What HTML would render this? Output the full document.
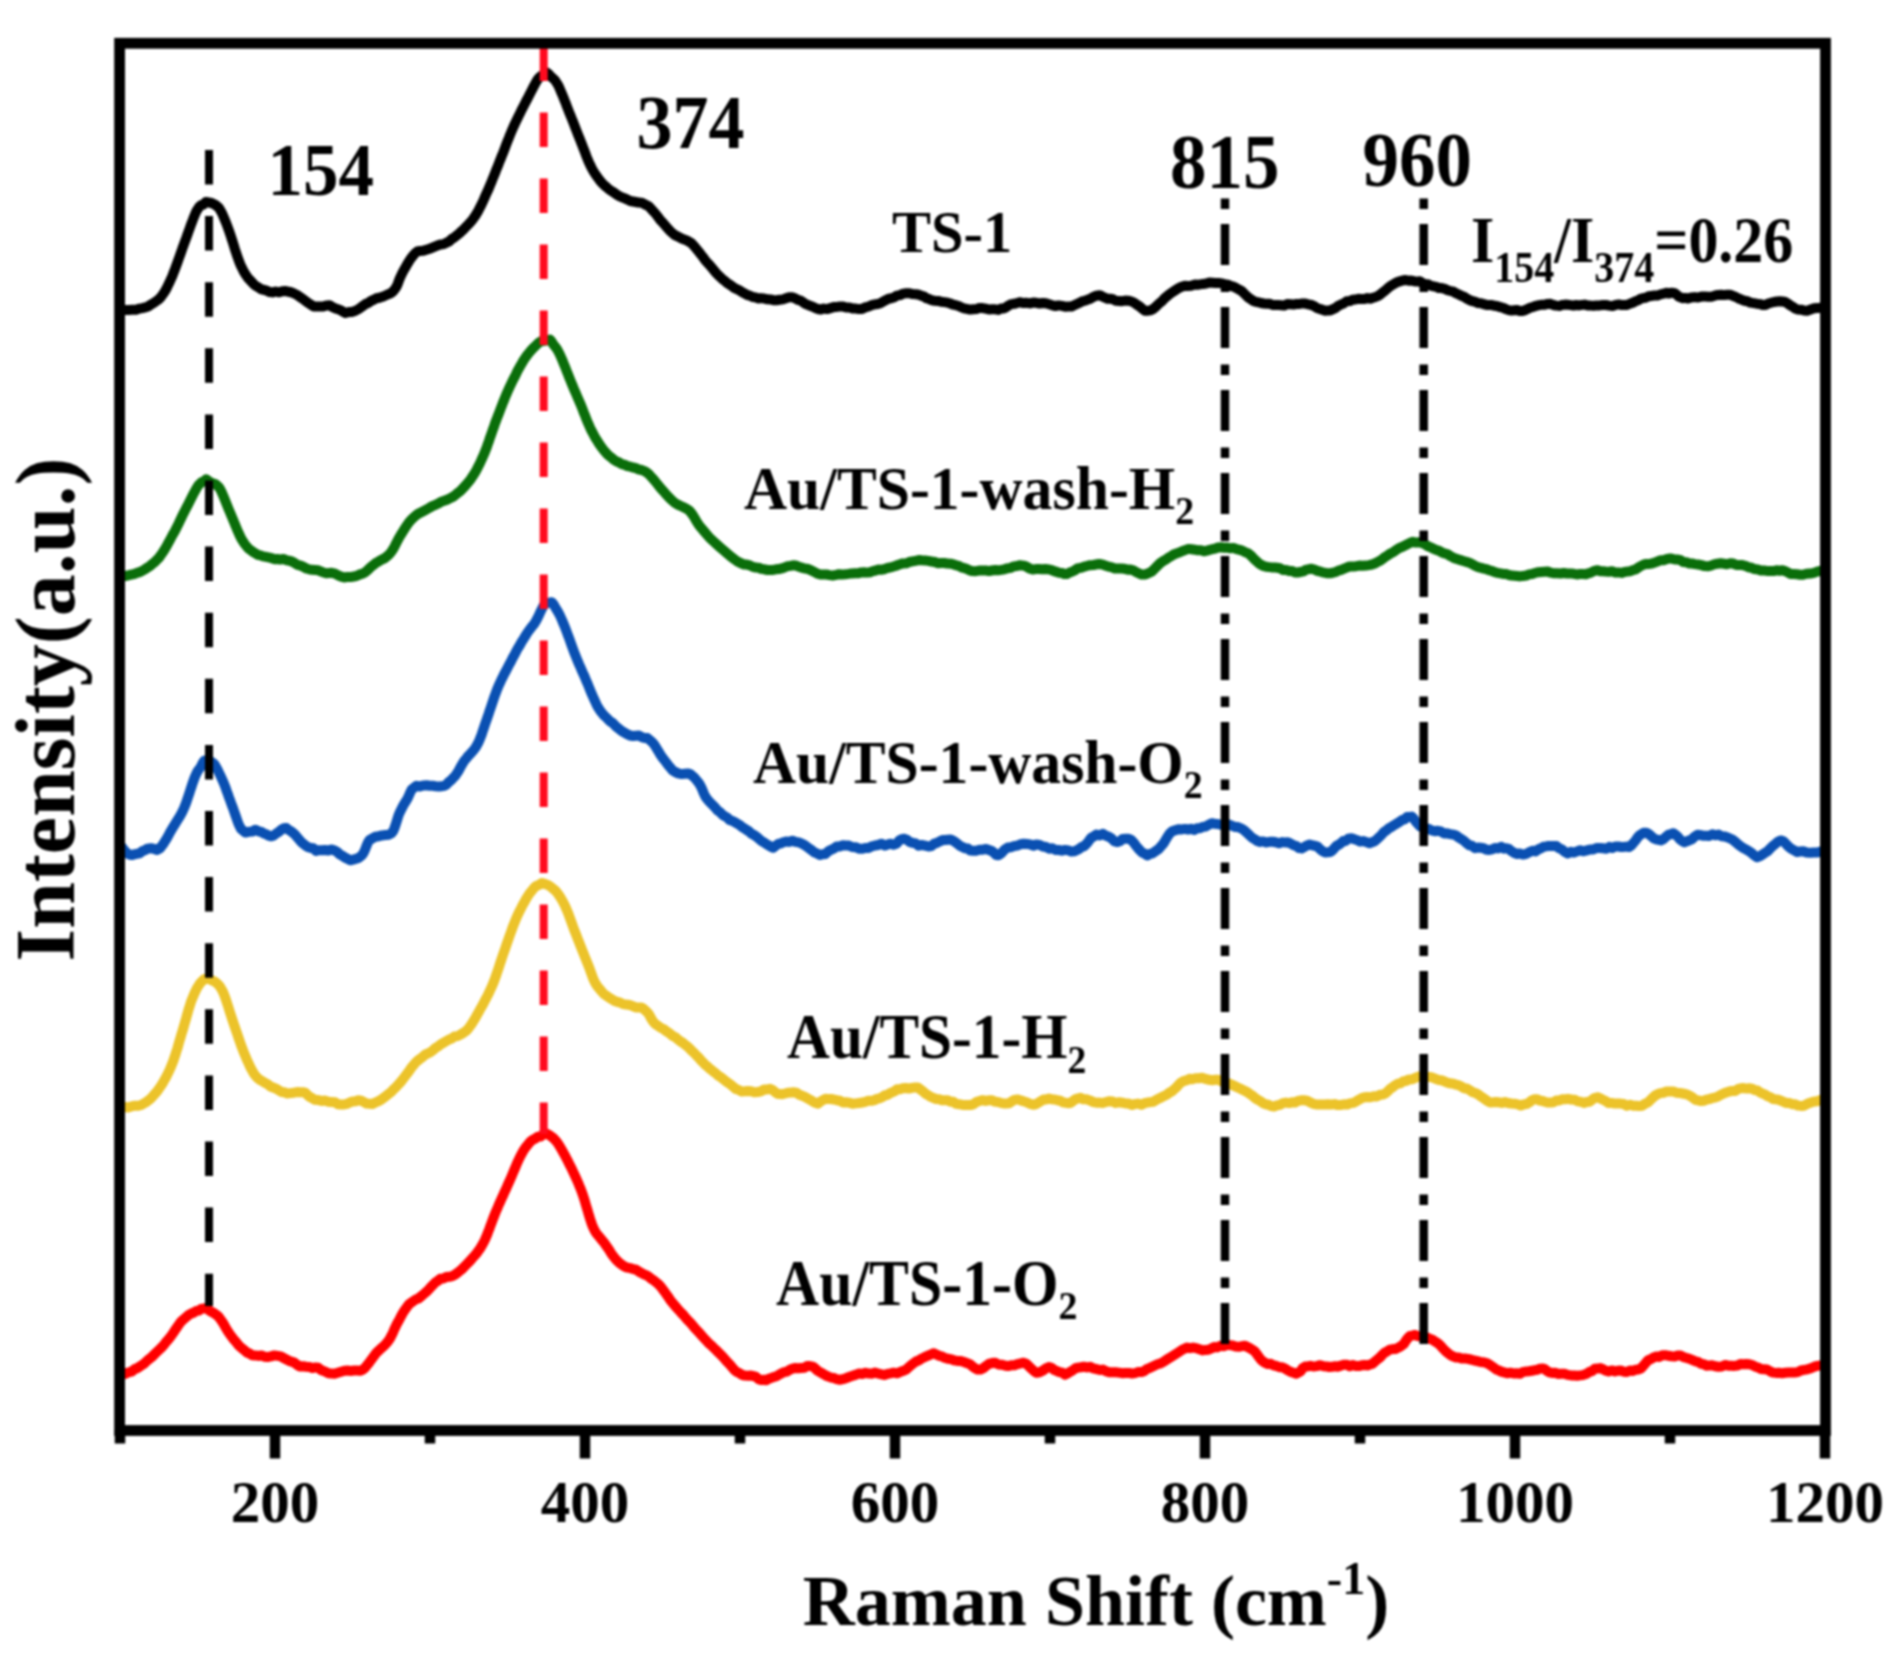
<!DOCTYPE html>
<html><head><meta charset="utf-8"><title>Raman spectra</title>
<style>
html,body{margin:0;padding:0;background:#fff;}
body{width:1893px;height:1662px;overflow:hidden;}
svg{display:block;filter:blur(0.9px);}
text{font-family:"Liberation Serif",serif;font-weight:bold;fill:#000;}
.c{fill:none;stroke-width:10;stroke-linejoin:round;stroke-linecap:butt;}
</style></head><body>
<svg width="1893" height="1662" viewBox="0 0 1893 1662">
<rect x="0" y="0" width="1893" height="1662" fill="#ffffff"/>
<g id="plot">
<path class="c" stroke="#000000" d="M120.0 309.0 L122.1 309.2 L125.1 310.0 L128.6 309.9 L132.3 309.8 L136.1 309.7 L139.5 308.6 L142.3 308.1 L145.2 307.4 L148.0 306.5 L150.8 304.6 L153.6 303.0 L156.1 301.2 L158.5 299.5 L160.4 297.7 L162.1 295.4 L163.6 293.3 L165.1 291.0 L166.6 288.3 L168.0 285.4 L169.5 282.3 L171.0 278.9 L172.1 276.6 L173.1 273.9 L174.2 271.2 L175.3 268.3 L176.4 265.3 L177.5 262.3 L178.6 259.2 L179.7 256.1 L180.8 253.0 L181.9 249.9 L182.9 246.9 L184.0 244.0 L185.1 241.1 L186.2 238.1 L187.3 235.0 L188.4 231.9 L189.5 228.8 L190.6 225.8 L191.7 222.8 L192.8 220.0 L193.8 217.3 L194.8 214.9 L195.7 212.8 L196.5 211.0 L199.3 206.7 L201.4 205.1 L203.2 204.6 L206.0 201.9 L209.8 202.6 L212.4 203.4 L215.5 205.0 L218.7 207.6 L220.0 209.7 L221.2 211.8 L222.5 214.3 L223.7 217.2 L225.1 220.5 L226.5 224.0 L228.0 228.0 L228.9 230.4 L229.8 233.1 L230.8 236.0 L231.7 239.0 L232.8 242.2 L233.8 245.5 L234.8 248.8 L235.9 252.1 L236.9 255.2 L238.0 258.2 L239.0 261.1 L240.0 263.7 L241.0 266.0 L242.8 269.6 L244.5 272.8 L246.2 275.4 L247.9 277.8 L249.7 279.8 L251.5 281.7 L253.5 283.9 L255.9 286.0 L258.4 287.4 L261.0 289.1 L263.7 289.8 L266.5 290.6 L269.4 292.0 L272.5 292.4 L275.7 291.5 L279.1 292.3 L282.4 291.2 L285.6 290.9 L288.4 291.8 L291.3 292.3 L293.9 293.4 L296.3 294.6 L298.6 296.0 L301.0 297.8 L303.5 299.4 L306.0 301.4 L308.5 303.1 L311.0 304.7 L313.8 306.5 L316.8 306.6 L319.9 306.4 L323.1 306.5 L326.4 305.4 L329.6 305.3 L332.3 307.0 L335.0 308.3 L337.8 309.2 L340.4 310.2 L343.0 311.7 L345.5 312.9 L348.8 312.1 L351.7 312.1 L354.7 311.1 L358.0 309.4 L360.4 307.8 L363.0 305.9 L365.6 304.0 L368.3 302.9 L371.1 300.9 L374.0 299.6 L376.6 298.2 L379.5 297.7 L382.4 296.8 L385.4 295.5 L388.2 294.2 L390.8 293.3 L393.0 291.4 L394.8 289.3 L396.3 287.0 L397.6 284.3 L398.7 281.3 L399.8 278.3 L401.1 275.5 L402.5 272.6 L403.9 270.0 L405.4 267.4 L406.9 264.8 L408.5 262.1 L410.1 259.5 L411.8 257.2 L413.4 255.3 L415.0 253.4 L417.5 251.4 L420.0 250.9 L422.6 250.8 L425.2 250.1 L428.0 249.3 L431.0 248.3 L434.1 246.9 L437.3 245.6 L440.5 244.5 L443.7 244.1 L446.3 242.8 L449.0 241.5 L451.6 239.1 L454.3 237.4 L457.0 235.3 L459.6 233.1 L461.6 231.1 L463.6 229.5 L465.7 227.2 L467.7 225.1 L469.7 223.0 L471.7 220.7 L473.6 218.2 L475.4 215.6 L476.9 213.1 L478.4 210.6 L479.8 207.8 L481.2 205.1 L482.6 202.2 L483.9 199.3 L485.2 196.2 L486.6 193.2 L488.0 190.1 L489.2 187.4 L490.3 184.7 L491.5 181.8 L492.6 179.0 L493.8 176.1 L495.0 173.1 L496.1 170.2 L497.3 167.3 L498.5 164.4 L499.6 161.4 L500.8 158.5 L501.9 155.7 L503.1 152.8 L504.2 149.9 L505.3 147.0 L506.4 144.1 L507.5 141.2 L508.7 138.3 L509.8 135.4 L511.0 132.6 L512.2 129.7 L513.5 126.8 L514.7 124.1 L516.0 121.4 L517.4 118.6 L518.8 115.7 L520.2 112.8 L521.6 109.9 L523.0 107.2 L524.4 104.5 L525.7 101.9 L527.0 99.5 L528.2 97.2 L529.3 95.0 L531.0 91.7 L532.6 88.6 L534.0 85.9 L535.4 83.3 L536.6 81.2 L537.7 79.4 L538.8 78.0 L541.9 75.5 L544.1 74.5 L547.0 72.7 L548.6 73.9 L550.8 76.5 L552.7 78.1 L554.9 80.1 L557.8 84.6 L558.8 86.5 L559.8 88.9 L560.9 91.5 L562.1 94.3 L563.4 97.4 L564.6 100.5 L565.9 103.7 L567.1 106.9 L568.3 110.0 L569.4 112.9 L570.5 115.5 L571.7 118.5 L572.8 121.2 L573.8 123.8 L574.8 126.3 L575.7 128.7 L576.7 131.3 L577.7 133.8 L578.8 136.6 L580.0 139.5 L581.0 142.1 L582.1 144.8 L583.1 147.6 L584.3 150.5 L585.4 153.5 L586.5 156.5 L587.7 159.5 L588.9 162.3 L590.2 165.0 L591.4 167.5 L592.7 170.0 L594.5 173.0 L596.4 175.8 L598.3 178.4 L600.2 180.9 L602.2 183.2 L604.3 185.3 L606.4 187.0 L608.5 189.0 L611.0 190.8 L613.7 192.4 L616.4 194.3 L619.2 196.2 L622.0 197.3 L624.8 198.4 L627.5 199.6 L630.3 201.0 L633.0 201.5 L635.9 202.0 L638.6 202.6 L641.4 202.7 L644.0 203.8 L646.6 205.3 L648.8 206.3 L650.9 208.6 L652.9 210.8 L654.9 213.0 L656.9 215.5 L658.8 218.0 L660.6 220.4 L662.4 222.3 L664.6 224.8 L666.7 227.2 L668.7 229.5 L670.7 231.6 L672.7 233.4 L675.0 235.2 L677.5 236.3 L680.1 237.7 L682.8 239.0 L685.6 239.9 L688.3 241.3 L691.0 242.8 L693.0 244.9 L695.0 247.1 L696.9 249.5 L698.9 251.9 L700.9 254.5 L702.9 257.0 L704.8 259.7 L706.8 262.1 L708.8 264.2 L710.7 266.3 L712.6 268.7 L714.5 271.0 L716.4 273.3 L718.4 275.4 L720.5 277.2 L722.6 279.4 L724.8 280.9 L727.1 283.0 L729.5 284.5 L731.9 286.1 L734.3 288.0 L736.8 289.1 L739.2 290.3 L741.6 291.8 L744.4 293.4 L747.1 294.9 L750.0 295.8 L752.7 297.0 L755.5 297.4 L758.1 298.5 L760.7 298.1 L764.1 298.5 L767.3 299.3 L770.3 299.4 L773.4 300.2 L776.5 300.3 L779.7 299.8 L782.9 299.4 L786.0 298.3 L789.2 297.2 L792.4 297.2 L795.1 298.4 L797.8 299.8 L800.5 300.5 L803.2 302.4 L805.7 304.1 L808.2 305.0 L810.8 306.1 L813.2 306.9 L815.5 308.1 L818.0 309.0 L820.9 309.6 L823.8 308.6 L826.9 309.1 L830.3 308.1 L833.6 307.1 L836.9 306.9 L840.0 306.5 L843.3 306.6 L846.4 307.5 L849.4 307.5 L852.5 308.4 L855.8 308.6 L858.8 309.1 L862.0 308.9 L865.3 307.4 L868.6 306.5 L871.8 305.1 L874.8 304.4 L877.7 304.0 L880.4 303.2 L883.1 301.7 L885.7 300.2 L888.2 298.9 L890.6 298.3 L893.9 297.5 L897.0 295.6 L900.0 295.1 L903.3 293.6 L906.3 293.2 L909.5 293.2 L912.8 294.1 L916.0 294.2 L919.0 294.7 L921.7 295.9 L924.2 296.6 L926.6 298.3 L929.1 299.1 L931.8 300.3 L934.7 300.7 L937.8 300.9 L941.0 301.7 L944.3 302.1 L947.7 302.7 L950.3 303.5 L953.0 304.6 L955.8 305.2 L958.6 306.0 L961.4 307.4 L964.1 308.4 L966.7 308.9 L970.1 309.6 L973.2 309.2 L976.3 309.1 L979.4 307.9 L982.5 308.1 L985.7 308.7 L988.9 309.5 L992.0 309.3 L995.2 309.3 L998.4 309.9 L1001.0 308.6 L1003.6 308.4 L1006.1 307.3 L1008.7 305.4 L1011.4 304.1 L1014.2 303.8 L1017.2 303.0 L1020.3 302.2 L1023.5 303.1 L1026.7 302.8 L1030.0 303.4 L1033.2 302.6 L1036.4 302.8 L1039.6 303.5 L1042.8 303.0 L1045.9 303.3 L1049.1 304.3 L1052.3 305.3 L1055.5 306.0 L1058.8 305.4 L1062.0 305.9 L1065.2 306.7 L1068.3 306.6 L1071.3 306.6 L1074.1 305.3 L1076.9 304.0 L1079.5 302.8 L1082.1 301.4 L1084.6 300.7 L1087.0 299.9 L1090.3 298.7 L1093.4 296.9 L1096.4 295.7 L1099.8 295.2 L1102.3 296.5 L1104.9 297.7 L1107.6 298.8 L1110.3 298.8 L1113.0 299.2 L1115.7 300.8 L1118.9 300.9 L1122.0 301.2 L1125.2 300.6 L1128.3 300.7 L1131.5 301.5 L1134.2 302.7 L1136.9 304.7 L1139.7 306.5 L1142.3 308.8 L1144.9 310.7 L1147.4 310.7 L1150.2 310.4 L1152.9 309.2 L1155.4 307.1 L1157.8 304.7 L1160.0 302.8 L1162.4 300.8 L1164.5 298.4 L1166.6 296.6 L1169.0 294.6 L1171.3 292.9 L1173.8 291.3 L1176.5 289.5 L1179.2 287.8 L1181.8 286.7 L1184.8 285.7 L1187.7 285.9 L1191.0 285.7 L1195.0 284.5 L1197.5 284.8 L1200.2 284.4 L1203.2 283.9 L1206.2 283.6 L1209.4 282.6 L1212.5 282.8 L1215.5 283.0 L1218.4 282.9 L1221.5 283.4 L1224.6 284.1 L1227.7 284.6 L1230.6 286.0 L1233.5 286.6 L1236.2 288.0 L1238.8 289.5 L1241.5 290.9 L1243.8 293.1 L1246.0 295.4 L1248.3 297.5 L1250.7 299.1 L1253.5 301.0 L1255.9 301.9 L1258.3 302.2 L1261.0 303.0 L1263.7 303.5 L1266.5 303.8 L1269.5 303.8 L1272.5 304.9 L1275.7 305.0 L1278.4 305.1 L1281.3 305.2 L1284.3 305.6 L1287.4 304.1 L1290.5 304.3 L1293.6 304.6 L1296.7 303.9 L1299.7 303.9 L1302.6 303.4 L1305.3 303.6 L1308.4 304.4 L1311.4 305.0 L1314.2 306.1 L1316.9 308.0 L1319.5 308.9 L1322.1 309.6 L1324.8 310.8 L1327.5 310.5 L1330.2 310.4 L1333.0 309.1 L1335.7 307.9 L1338.4 305.7 L1341.1 304.4 L1343.9 303.3 L1346.7 301.3 L1349.7 301.1 L1352.5 299.8 L1355.4 299.5 L1358.3 298.8 L1361.4 298.9 L1364.4 299.0 L1367.4 298.1 L1370.3 298.7 L1373.0 297.8 L1375.6 297.0 L1378.2 295.9 L1380.7 294.1 L1383.0 292.2 L1385.2 290.5 L1387.3 288.6 L1389.5 286.7 L1391.7 285.3 L1394.0 283.9 L1396.8 282.3 L1399.7 281.4 L1402.6 280.5 L1405.6 280.0 L1408.5 280.7 L1411.3 280.5 L1414.0 281.2 L1416.9 281.6 L1419.7 281.3 L1422.4 283.0 L1425.1 284.3 L1427.9 284.3 L1431.0 285.9 L1433.5 286.3 L1436.2 286.8 L1439.0 288.1 L1441.8 288.1 L1444.7 288.8 L1447.6 290.2 L1450.5 291.0 L1453.3 291.7 L1456.1 293.3 L1458.8 294.6 L1461.6 295.9 L1464.4 297.0 L1467.1 298.8 L1469.9 300.2 L1472.6 301.2 L1475.4 301.9 L1478.2 303.1 L1480.9 303.3 L1483.7 304.1 L1486.5 304.9 L1489.3 305.1 L1492.0 305.1 L1494.8 305.8 L1497.6 306.2 L1500.4 307.2 L1503.1 307.8 L1505.9 309.1 L1508.7 310.1 L1511.5 310.6 L1514.2 310.3 L1517.0 310.0 L1519.8 311.0 L1522.5 310.9 L1525.3 310.1 L1528.0 308.8 L1530.7 307.5 L1533.4 306.8 L1536.2 305.8 L1539.0 305.1 L1542.0 304.7 L1544.7 304.7 L1547.5 303.9 L1550.4 303.8 L1553.3 305.0 L1556.2 305.6 L1559.1 305.9 L1562.1 304.9 L1565.0 304.6 L1567.9 304.8 L1570.7 305.1 L1573.5 305.6 L1576.3 305.0 L1579.0 305.4 L1581.8 304.9 L1584.6 304.6 L1587.6 305.4 L1590.6 305.6 L1593.8 305.7 L1596.6 305.4 L1599.6 305.4 L1602.7 305.0 L1605.9 305.0 L1609.2 305.6 L1612.5 306.0 L1615.7 304.9 L1618.8 304.4 L1621.8 305.1 L1624.5 305.0 L1627.0 304.9 L1630.4 303.5 L1633.2 302.5 L1635.6 301.2 L1637.9 300.4 L1640.2 299.0 L1642.7 298.1 L1645.6 297.7 L1648.2 296.5 L1651.1 295.9 L1654.2 295.6 L1657.4 295.5 L1660.5 294.4 L1663.6 293.7 L1666.5 292.8 L1669.1 293.6 L1671.4 292.8 L1674.9 293.3 L1677.2 295.3 L1679.3 296.9 L1682.5 298.2 L1685.1 297.9 L1688.0 298.5 L1691.2 297.5 L1694.6 297.1 L1698.0 297.5 L1701.4 296.6 L1704.7 296.4 L1707.9 296.8 L1711.3 296.7 L1714.6 295.7 L1717.9 294.9 L1721.1 294.7 L1724.1 295.1 L1726.9 294.8 L1730.3 294.7 L1733.2 296.1 L1735.9 297.0 L1738.6 298.5 L1741.7 299.7 L1744.5 300.7 L1747.4 301.2 L1750.4 302.6 L1753.5 303.1 L1756.7 303.7 L1760.0 304.1 L1762.6 304.9 L1765.4 304.9 L1768.3 303.5 L1771.2 302.7 L1774.1 302.0 L1777.0 301.5 L1779.8 301.3 L1782.4 301.5 L1785.2 302.0 L1787.8 303.6 L1790.3 305.4 L1792.8 306.8 L1795.3 308.6 L1798.0 309.6 L1800.9 309.7 L1803.8 310.4 L1807.1 310.7 L1810.6 309.5 L1814.1 308.3 L1817.5 308.1 L1820.5 307.7 L1823.1 307.4 L1825.0 307.0"/>
<path class="c" stroke="#0a6e0a" d="M120.0 575.8 L121.9 576.0 L124.5 576.2 L127.7 575.5 L131.2 574.6 L134.9 573.8 L137.1 572.8 L139.4 572.2 L142.0 571.0 L144.6 569.5 L147.2 567.8 L149.8 566.1 L152.4 563.9 L154.8 562.0 L157.0 559.7 L158.9 557.9 L160.6 555.4 L162.3 553.1 L164.0 550.5 L165.5 547.9 L167.1 545.2 L168.6 542.4 L170.0 539.8 L171.5 537.0 L172.9 534.4 L174.5 531.7 L175.9 528.9 L177.4 526.0 L178.8 523.2 L180.1 520.4 L181.5 517.5 L182.8 514.7 L184.2 511.9 L185.6 509.2 L187.1 506.4 L188.6 503.4 L190.1 500.4 L191.6 497.4 L193.1 494.4 L194.6 491.8 L196.0 489.3 L197.2 487.1 L198.3 485.4 L201.7 482.1 L203.8 481.5 L206.2 479.3 L210.0 482.1 L212.5 483.1 L215.6 484.2 L218.9 487.2 L220.0 488.9 L221.2 491.2 L222.4 493.8 L223.6 496.7 L224.8 499.7 L226.1 502.9 L227.4 506.1 L228.7 509.3 L230.0 512.4 L231.2 515.2 L232.4 518.1 L233.7 521.2 L234.9 524.3 L236.2 527.4 L237.5 530.5 L238.8 533.4 L240.0 536.1 L241.3 538.7 L242.6 540.8 L244.7 544.0 L246.7 546.5 L248.7 548.8 L250.8 550.3 L253.0 551.9 L255.3 553.3 L257.8 554.9 L260.4 555.4 L263.1 556.4 L265.8 556.8 L268.5 557.3 L271.2 558.0 L274.3 559.2 L277.2 559.0 L280.2 559.6 L283.4 559.0 L287.0 560.4 L289.5 560.8 L292.1 561.6 L294.9 563.2 L297.7 564.9 L300.6 565.6 L303.5 566.9 L306.4 568.5 L309.2 569.3 L312.0 569.8 L314.9 569.9 L317.8 570.2 L320.7 571.3 L323.5 572.5 L326.3 573.3 L328.9 573.1 L331.4 572.8 L335.0 573.7 L338.2 575.4 L341.2 576.7 L344.1 577.4 L347.2 577.1 L350.4 577.1 L353.7 576.5 L356.9 575.8 L360.0 574.4 L363.0 573.5 L365.7 571.9 L368.3 569.5 L370.7 567.2 L373.2 565.2 L375.8 562.9 L378.1 561.8 L380.5 560.3 L383.0 559.1 L385.5 557.6 L387.8 555.7 L390.0 553.5 L391.7 551.3 L393.3 548.8 L394.8 546.0 L396.3 543.0 L397.8 540.2 L399.4 537.2 L401.0 534.5 L402.7 531.8 L404.3 529.3 L406.0 526.6 L407.8 524.0 L409.6 521.6 L411.6 519.4 L413.8 517.3 L416.2 515.2 L418.7 513.5 L421.3 512.2 L424.1 510.8 L427.0 509.2 L429.9 507.5 L432.8 505.9 L435.5 504.8 L438.3 503.5 L441.2 501.7 L444.1 500.8 L447.0 499.8 L449.8 498.4 L452.5 497.0 L455.0 495.3 L457.6 493.1 L460.1 491.2 L462.4 488.9 L464.6 486.5 L466.7 484.2 L468.8 481.6 L470.8 479.1 L472.3 476.8 L473.8 474.5 L475.3 472.1 L476.7 469.6 L478.0 467.0 L479.4 464.3 L480.7 461.5 L482.1 458.4 L483.5 455.3 L484.6 452.7 L485.6 450.1 L486.7 447.3 L487.7 444.3 L488.8 441.4 L489.8 438.3 L490.9 435.3 L492.0 432.2 L493.0 429.2 L494.1 426.2 L495.1 423.2 L496.2 420.4 L497.3 417.4 L498.5 414.4 L499.6 411.5 L500.7 408.6 L501.8 405.7 L502.9 402.8 L504.1 400.0 L505.2 397.1 L506.4 394.3 L507.6 391.5 L508.9 388.7 L510.2 385.8 L511.6 382.9 L513.0 380.0 L514.5 377.1 L516.0 374.2 L517.4 371.2 L518.9 368.4 L520.4 365.8 L521.9 363.3 L523.3 360.8 L524.7 358.6 L526.9 355.5 L529.2 352.7 L531.4 350.0 L533.6 347.7 L535.6 345.8 L537.4 344.0 L539.0 342.6 L542.4 340.6 L544.5 340.9 L548.4 340.0 L550.0 339.6 L551.1 340.8 L552.9 343.8 L554.1 345.4 L555.6 347.2 L557.4 349.8 L559.6 354.0 L560.5 356.0 L561.6 358.5 L562.8 361.3 L564.0 364.3 L565.3 367.4 L566.5 370.6 L567.8 373.8 L569.0 377.0 L570.2 379.9 L571.3 382.6 L572.3 385.0 L573.6 388.2 L574.7 390.7 L575.7 393.0 L576.6 395.1 L577.6 397.4 L578.7 399.9 L580.0 403.0 L581.0 405.3 L582.0 407.8 L583.0 410.5 L584.1 413.3 L585.3 416.2 L586.4 419.2 L587.6 422.1 L588.9 425.1 L590.1 427.8 L591.4 430.5 L592.7 432.9 L594.3 435.9 L595.9 438.7 L597.6 441.3 L599.3 444.1 L601.1 446.7 L602.9 449.1 L604.7 451.3 L606.6 453.5 L608.5 455.3 L611.0 457.3 L613.7 459.6 L616.4 461.4 L619.2 462.5 L622.0 464.2 L624.8 464.9 L627.5 466.1 L630.3 466.7 L633.0 467.5 L635.9 468.1 L638.6 469.4 L641.4 470.0 L644.0 470.9 L646.6 472.4 L648.8 474.2 L650.9 476.5 L652.9 478.7 L654.9 481.0 L656.9 483.5 L658.8 485.9 L660.6 488.2 L662.4 490.2 L664.7 492.7 L666.8 495.1 L668.8 497.2 L670.8 499.3 L672.8 501.1 L675.0 503.0 L677.8 504.6 L680.8 506.0 L683.8 507.3 L686.7 508.9 L689.4 510.7 L691.3 513.0 L693.0 515.4 L694.6 518.0 L696.2 520.8 L698.0 523.7 L700.0 526.4 L701.7 528.4 L703.4 530.5 L705.3 532.8 L707.2 535.0 L709.2 537.3 L711.3 539.3 L713.5 541.4 L715.8 543.5 L718.0 545.5 L720.2 547.5 L722.6 549.6 L725.1 551.7 L727.6 553.8 L730.1 556.0 L732.7 558.0 L735.4 560.0 L738.0 561.8 L740.8 563.1 L743.7 564.4 L746.7 564.6 L749.8 565.4 L752.8 566.9 L755.8 567.5 L758.6 567.7 L761.1 568.8 L763.4 569.1 L767.4 570.0 L770.4 570.1 L773.0 569.9 L776.0 569.3 L778.8 569.1 L781.6 568.4 L784.5 567.4 L787.4 566.3 L790.3 565.9 L793.1 565.3 L795.9 565.4 L798.8 566.8 L801.6 567.6 L804.6 568.5 L807.1 568.7 L809.8 569.7 L812.4 571.0 L815.1 572.4 L817.7 573.7 L820.4 574.5 L823.5 574.4 L826.5 574.5 L829.5 575.1 L832.7 575.5 L836.3 574.9 L839.1 574.2 L842.1 574.4 L845.2 574.3 L848.4 573.9 L851.7 573.4 L855.1 573.2 L858.5 573.2 L861.2 572.4 L864.0 572.3 L866.9 572.6 L869.9 572.2 L872.8 571.1 L875.7 570.5 L878.5 569.6 L881.2 569.7 L883.8 569.3 L886.9 568.1 L889.8 567.5 L892.6 566.8 L895.3 566.0 L897.9 565.0 L900.4 564.1 L902.9 563.4 L906.2 563.3 L909.3 562.0 L912.3 561.4 L915.4 560.8 L918.7 560.1 L921.7 560.3 L924.9 560.4 L928.2 560.9 L931.5 561.5 L934.7 562.0 L937.7 563.2 L941.1 563.0 L944.3 563.0 L947.4 563.6 L950.5 563.7 L953.6 564.4 L956.2 565.3 L958.6 565.8 L961.1 567.3 L963.7 567.9 L966.4 568.8 L969.4 570.2 L972.3 571.1 L975.6 571.2 L979.0 570.6 L982.4 570.6 L985.8 570.4 L988.9 571.1 L991.6 570.5 L995.4 570.0 L998.4 570.2 L1001.1 569.9 L1004.3 569.3 L1007.3 568.4 L1010.5 567.8 L1013.8 566.4 L1017.0 566.0 L1020.0 565.2 L1023.3 565.6 L1026.4 566.6 L1029.4 568.4 L1032.8 569.5 L1035.8 569.1 L1038.9 569.1 L1042.2 569.3 L1045.5 569.0 L1048.7 569.4 L1051.3 570.0 L1054.0 571.1 L1056.6 571.9 L1059.2 572.7 L1061.9 572.9 L1064.5 574.1 L1067.1 573.9 L1069.6 572.5 L1072.2 571.6 L1074.8 570.3 L1077.5 568.4 L1080.3 567.9 L1083.4 566.9 L1086.7 566.0 L1090.0 565.2 L1093.4 565.0 L1096.6 564.3 L1099.4 564.0 L1102.9 564.6 L1105.9 565.8 L1108.8 566.7 L1112.0 567.4 L1114.9 568.5 L1118.0 568.4 L1121.2 568.5 L1124.5 568.8 L1127.9 569.7 L1130.5 569.6 L1133.2 570.3 L1136.0 572.0 L1138.8 573.4 L1141.6 574.5 L1144.3 574.6 L1146.9 573.9 L1149.3 572.7 L1151.5 571.7 L1153.6 569.8 L1155.7 567.6 L1157.9 565.4 L1160.2 563.1 L1162.8 561.2 L1165.3 559.9 L1168.0 557.9 L1170.8 556.4 L1173.7 554.5 L1176.6 553.4 L1179.5 552.3 L1182.3 551.2 L1185.0 550.1 L1188.4 548.9 L1191.6 549.3 L1194.8 549.7 L1197.9 550.3 L1201.0 550.3 L1204.0 551.3 L1206.9 550.7 L1209.7 549.8 L1212.4 549.2 L1215.2 548.6 L1218.1 547.6 L1221.4 547.3 L1224.1 547.7 L1227.1 547.5 L1230.2 548.3 L1233.4 547.9 L1236.6 549.2 L1239.7 549.9 L1242.6 550.8 L1245.2 552.2 L1247.8 553.1 L1250.2 554.9 L1252.4 557.1 L1254.4 559.3 L1256.5 561.2 L1258.6 563.2 L1261.0 564.7 L1263.5 566.0 L1266.2 566.8 L1268.9 567.1 L1271.6 567.4 L1274.4 567.4 L1277.2 567.8 L1280.0 568.2 L1282.9 569.9 L1286.0 570.0 L1289.1 570.9 L1292.1 571.0 L1295.1 572.4 L1297.7 572.5 L1300.0 572.0 L1303.5 571.4 L1305.7 569.8 L1309.0 569.2 L1311.5 568.7 L1314.3 569.5 L1317.4 570.9 L1320.7 571.7 L1324.1 572.7 L1327.5 573.3 L1330.1 573.2 L1332.8 572.8 L1335.6 572.0 L1338.4 570.6 L1341.2 569.9 L1344.1 568.7 L1346.9 567.5 L1349.7 566.4 L1352.9 566.5 L1356.2 566.2 L1359.4 565.6 L1362.6 565.8 L1365.8 565.6 L1368.9 565.1 L1371.9 564.5 L1374.7 563.5 L1377.3 562.1 L1379.9 560.8 L1382.4 559.1 L1385.0 557.0 L1387.6 555.4 L1390.4 553.5 L1393.0 552.3 L1395.8 550.2 L1398.6 548.4 L1401.5 547.2 L1404.4 545.7 L1407.2 544.4 L1410.0 542.9 L1412.6 541.8 L1415.8 542.6 L1418.9 542.2 L1421.8 543.0 L1424.7 544.3 L1427.8 546.1 L1431.0 547.5 L1433.6 548.8 L1436.3 549.9 L1439.1 550.8 L1441.9 552.4 L1444.8 553.4 L1447.6 554.3 L1450.5 556.2 L1453.3 557.7 L1456.1 558.7 L1458.8 559.6 L1461.6 560.4 L1464.4 561.3 L1467.1 562.1 L1469.9 563.0 L1472.6 564.4 L1475.4 566.0 L1478.2 567.2 L1480.9 567.8 L1483.7 568.6 L1486.5 569.2 L1489.3 570.2 L1492.0 571.0 L1494.8 572.1 L1497.6 572.8 L1500.4 573.3 L1503.2 573.9 L1506.1 574.1 L1508.9 575.0 L1511.7 575.6 L1514.5 575.8 L1517.2 576.0 L1519.8 576.4 L1523.1 575.9 L1526.1 575.6 L1529.0 574.4 L1532.0 574.0 L1535.0 573.0 L1538.3 572.2 L1541.3 571.9 L1544.4 571.7 L1547.6 571.5 L1550.8 572.7 L1554.0 573.3 L1557.3 573.3 L1560.5 573.5 L1563.7 573.0 L1567.1 573.5 L1570.4 573.4 L1573.7 573.8 L1576.9 574.4 L1579.9 574.1 L1582.7 574.0 L1585.9 574.2 L1588.4 573.3 L1590.9 572.7 L1593.7 571.2 L1597.5 570.2 L1599.9 571.2 L1602.6 571.2 L1605.6 571.5 L1608.8 571.7 L1612.0 571.3 L1615.3 572.4 L1618.5 572.4 L1621.6 572.9 L1624.4 572.0 L1627.0 571.6 L1630.2 571.3 L1632.9 570.1 L1635.4 569.5 L1637.7 568.0 L1640.1 566.4 L1642.7 565.1 L1645.6 564.1 L1648.2 564.1 L1651.1 563.6 L1654.1 562.7 L1657.2 561.6 L1660.3 560.2 L1663.3 560.3 L1666.3 559.2 L1669.0 558.6 L1671.4 558.6 L1675.0 559.5 L1677.9 559.6 L1680.5 560.2 L1683.2 562.0 L1686.2 562.2 L1689.0 563.4 L1692.0 563.5 L1695.0 564.1 L1698.1 564.5 L1701.4 565.1 L1704.7 566.1 L1707.7 566.3 L1710.9 565.6 L1714.1 564.4 L1717.5 563.7 L1720.7 563.3 L1723.9 563.7 L1726.9 564.2 L1730.2 563.3 L1733.3 563.6 L1736.4 565.0 L1739.4 564.9 L1742.4 565.1 L1745.4 565.8 L1748.5 567.3 L1751.6 567.8 L1754.6 569.1 L1757.7 569.4 L1760.8 570.5 L1763.9 570.5 L1767.0 570.9 L1770.2 571.1 L1773.4 571.1 L1776.5 570.3 L1779.5 570.7 L1782.4 570.2 L1785.4 571.3 L1788.0 572.5 L1790.5 574.0 L1793.5 574.1 L1797.2 574.3 L1799.9 574.7 L1803.0 574.8 L1806.5 573.8 L1810.2 573.6 L1813.8 572.9 L1817.3 571.6 L1820.4 570.8 L1823.1 570.2 L1825.0 570.9"/>
<path class="c" stroke="#0a50b2" d="M120.0 844.7 L121.5 846.5 L123.6 849.3 L126.2 852.5 L128.9 854.4 L131.7 855.1 L134.1 854.4 L136.8 853.8 L139.5 853.4 L142.3 851.2 L145.0 850.1 L147.5 848.6 L150.9 848.2 L154.0 848.9 L157.1 849.9 L160.2 848.1 L161.8 845.8 L163.4 843.8 L165.0 841.2 L166.7 838.6 L168.3 835.7 L169.8 832.8 L171.4 830.0 L172.9 827.4 L174.6 824.8 L176.2 822.2 L177.8 819.6 L179.3 817.3 L180.9 814.5 L182.4 811.6 L184.0 808.2 L185.0 805.7 L186.1 802.9 L187.1 799.9 L188.2 796.7 L189.3 793.4 L190.3 790.2 L191.4 787.0 L192.3 784.0 L193.3 781.2 L194.2 778.7 L195.0 776.6 L197.0 772.3 L198.6 769.8 L200.0 768.0 L201.2 766.1 L203.1 762.3 L204.6 760.4 L207.9 760.9 L210.6 761.3 L214.0 763.8 L215.2 765.5 L216.5 767.7 L217.9 770.4 L219.3 773.3 L220.8 776.4 L222.2 779.6 L223.6 782.8 L224.7 785.4 L225.7 788.1 L226.7 791.0 L227.8 793.9 L228.8 796.9 L229.9 799.8 L230.9 802.6 L231.9 805.4 L233.0 808.2 L234.1 811.3 L235.2 814.5 L236.3 817.7 L237.4 820.9 L238.5 823.9 L239.8 826.6 L241.1 829.0 L242.6 830.3 L245.4 832.5 L248.7 831.8 L252.1 831.6 L255.4 829.7 L258.5 831.3 L261.2 831.9 L263.8 833.4 L266.3 834.2 L268.7 835.7 L271.2 836.3 L273.8 835.4 L276.4 833.4 L279.0 831.7 L281.5 829.6 L283.8 828.2 L286.3 827.9 L288.5 829.9 L290.8 831.1 L293.3 833.2 L295.2 834.8 L297.3 837.4 L299.4 839.9 L301.6 842.3 L303.8 844.1 L306.0 845.9 L308.5 847.3 L310.9 848.0 L313.4 848.3 L316.0 850.9 L318.7 850.2 L321.7 850.3 L324.9 850.0 L328.3 850.5 L331.5 849.4 L334.5 850.5 L337.2 851.9 L339.7 854.4 L342.2 855.7 L344.6 857.4 L347.2 858.6 L350.1 860.3 L353.1 859.6 L356.2 858.7 L359.0 857.7 L361.5 855.7 L363.2 853.5 L364.5 851.0 L365.7 848.0 L366.9 844.9 L368.1 842.1 L369.4 840.1 L372.4 838.4 L375.5 836.7 L379.0 836.2 L382.0 835.4 L385.4 835.1 L388.7 834.8 L391.6 833.1 L393.0 831.4 L394.2 828.7 L395.3 825.7 L396.4 822.3 L397.4 819.0 L398.4 815.8 L399.5 812.9 L401.1 809.7 L402.7 806.6 L404.3 803.8 L405.9 801.3 L407.4 798.7 L409.0 795.4 L410.3 792.3 L411.8 789.4 L413.8 787.8 L416.5 785.8 L419.8 786.5 L423.2 785.4 L426.5 785.3 L429.6 785.8 L432.6 785.8 L435.7 786.3 L439.0 786.6 L441.3 786.3 L443.8 785.9 L446.3 784.7 L448.8 782.0 L451.2 780.1 L453.4 777.7 L455.1 776.0 L456.8 773.5 L458.3 771.2 L459.8 768.5 L461.3 765.7 L462.9 762.9 L464.5 760.5 L466.3 758.5 L468.1 756.1 L470.0 754.2 L471.9 752.1 L473.8 749.9 L475.5 747.6 L477.2 744.7 L478.4 742.5 L479.5 740.0 L480.5 737.4 L481.6 734.6 L482.5 731.8 L483.5 728.8 L484.5 725.8 L485.6 722.7 L486.7 719.6 L487.6 716.9 L488.6 714.1 L489.5 711.2 L490.5 708.3 L491.5 705.4 L492.5 702.4 L493.5 699.4 L494.5 696.4 L495.6 693.5 L496.7 690.5 L497.8 687.7 L499.0 684.9 L500.2 682.3 L501.5 679.5 L502.8 676.9 L504.1 674.3 L505.5 671.8 L506.8 669.2 L508.2 666.5 L509.5 664.0 L510.8 661.7 L512.0 659.3 L513.5 656.4 L515.0 653.8 L516.4 651.0 L517.8 648.4 L519.2 646.2 L520.6 643.7 L522.0 641.3 L523.4 639.2 L524.7 637.0 L526.7 633.8 L528.6 631.0 L530.6 628.4 L532.4 626.0 L534.2 623.9 L535.8 621.2 L537.3 618.5 L538.8 615.5 L540.1 612.5 L541.4 609.8 L542.6 607.5 L543.7 605.6 L546.4 603.2 L548.5 602.8 L551.7 602.2 L553.2 603.8 L554.9 606.8 L556.2 609.0 L557.8 611.5 L559.6 614.8 L560.6 617.0 L561.6 619.2 L562.7 621.9 L563.9 624.6 L565.1 627.6 L566.4 631.0 L567.3 633.4 L568.3 636.2 L569.4 639.0 L570.4 641.9 L571.5 645.0 L572.6 648.0 L573.7 651.0 L574.8 653.9 L575.9 656.6 L577.1 659.6 L578.2 662.2 L579.3 664.9 L580.5 667.4 L581.6 670.1 L582.8 672.8 L584.1 675.5 L585.4 678.7 L586.5 681.4 L587.8 684.2 L589.0 687.3 L590.3 690.5 L591.6 693.6 L593.0 696.7 L594.3 699.6 L595.6 702.5 L596.8 705.1 L598.0 707.3 L600.1 710.6 L601.9 712.9 L603.8 715.2 L605.9 717.1 L608.5 719.8 L610.4 721.6 L612.6 722.9 L614.9 725.3 L617.3 727.6 L619.8 729.5 L622.3 731.4 L624.9 732.9 L627.5 734.4 L630.2 735.5 L633.0 736.1 L636.0 735.8 L639.0 735.6 L641.9 737.2 L644.7 738.1 L647.4 738.1 L649.7 740.0 L652.0 742.0 L654.0 744.3 L655.8 747.0 L657.5 749.8 L659.1 752.4 L660.7 755.2 L662.4 757.6 L664.5 760.3 L666.6 763.0 L668.7 765.9 L670.8 768.2 L672.9 770.7 L675.0 771.9 L678.2 773.4 L681.5 774.1 L684.7 773.7 L687.8 773.4 L690.2 774.0 L692.5 776.1 L694.8 778.1 L696.9 780.6 L698.9 783.1 L700.3 785.4 L701.5 787.8 L702.6 790.4 L703.7 793.2 L705.1 796.1 L706.8 798.6 L708.6 800.8 L710.6 803.0 L712.9 805.3 L715.2 807.6 L717.6 810.5 L720.1 812.3 L722.6 814.9 L724.8 816.2 L727.1 817.5 L729.5 819.9 L731.9 820.7 L734.3 821.9 L736.8 823.3 L739.2 824.7 L741.6 826.7 L744.0 828.2 L746.5 829.9 L749.0 831.4 L751.6 833.8 L754.0 835.0 L756.4 836.6 L758.6 838.5 L760.7 840.4 L763.6 842.2 L766.2 844.0 L768.6 845.4 L770.9 846.8 L773.3 847.7 L775.8 845.6 L778.4 843.9 L780.9 843.3 L783.5 842.2 L786.0 841.5 L789.2 841.9 L792.4 840.7 L795.5 841.9 L798.7 842.4 L801.3 843.4 L803.9 844.7 L806.4 846.4 L809.0 848.4 L811.4 850.0 L814.3 852.3 L817.0 853.4 L819.8 855.1 L822.5 854.2 L825.3 854.0 L828.2 851.4 L830.9 849.8 L833.6 848.7 L836.6 846.5 L839.4 846.5 L843.0 845.2 L845.7 845.4 L848.8 845.6 L852.1 847.0 L855.5 847.2 L859.0 848.7 L862.0 848.8 L865.2 848.0 L868.5 847.9 L871.8 846.3 L875.0 845.5 L878.0 845.0 L881.5 843.7 L884.9 845.6 L888.2 844.3 L891.2 843.8 L893.8 844.8 L896.9 843.4 L899.1 840.7 L901.7 839.2 L904.1 838.8 L906.8 839.7 L909.6 842.0 L912.8 842.9 L915.6 843.4 L918.6 845.7 L921.8 845.0 L925.2 845.6 L928.6 846.5 L931.2 846.1 L934.0 843.8 L936.9 842.9 L939.8 841.4 L942.6 840.1 L945.3 840.0 L947.7 839.7 L950.6 839.5 L953.2 840.8 L955.6 842.3 L957.9 844.2 L960.3 846.1 L962.8 847.3 L965.2 848.2 L967.7 848.5 L970.3 850.6 L973.0 850.7 L976.1 850.7 L979.4 849.8 L982.8 849.7 L986.1 849.0 L988.9 850.0 L991.7 851.0 L994.0 852.8 L996.2 855.1 L998.4 855.3 L1000.6 853.9 L1002.8 851.7 L1005.1 849.2 L1007.9 847.5 L1010.7 847.2 L1013.8 846.2 L1017.1 845.6 L1020.4 844.3 L1023.7 843.8 L1026.9 844.0 L1030.1 844.4 L1033.2 845.8 L1036.4 844.4 L1039.6 844.9 L1042.8 846.5 L1045.9 847.0 L1049.1 848.7 L1052.2 848.3 L1055.4 849.9 L1058.6 850.0 L1061.9 850.7 L1065.2 849.9 L1068.3 850.4 L1071.3 851.5 L1074.1 851.3 L1076.8 850.2 L1079.3 848.8 L1081.7 847.0 L1084.0 846.2 L1086.1 844.3 L1087.9 842.2 L1089.6 839.8 L1091.5 837.5 L1093.5 836.6 L1096.4 834.5 L1099.7 835.4 L1102.9 833.9 L1106.0 835.7 L1108.8 836.7 L1111.6 838.5 L1114.3 841.2 L1117.0 842.1 L1119.8 841.3 L1122.7 838.9 L1125.6 838.7 L1128.3 838.7 L1130.8 839.6 L1133.2 842.0 L1135.5 845.1 L1137.8 848.0 L1140.1 850.5 L1142.3 852.7 L1144.7 853.7 L1147.4 855.4 L1149.9 853.9 L1152.6 853.3 L1155.4 851.2 L1158.3 849.3 L1161.0 846.3 L1162.8 844.4 L1164.5 841.9 L1166.2 838.8 L1167.9 836.1 L1169.8 833.4 L1171.8 831.5 L1174.0 830.6 L1176.5 829.9 L1179.1 829.2 L1181.9 829.4 L1184.9 828.9 L1188.0 829.5 L1191.1 828.8 L1194.4 829.9 L1197.1 828.3 L1199.9 828.2 L1202.8 826.9 L1205.7 826.5 L1208.7 824.7 L1211.7 823.3 L1214.7 823.7 L1217.6 824.0 L1220.3 824.7 L1223.3 824.6 L1226.3 825.7 L1229.2 824.6 L1232.1 825.8 L1234.9 826.9 L1237.6 827.1 L1240.1 827.9 L1242.5 829.1 L1245.3 831.3 L1247.8 833.7 L1250.1 835.9 L1252.3 837.9 L1254.6 839.1 L1257.2 841.0 L1260.1 841.9 L1263.2 841.4 L1266.4 842.4 L1269.7 841.8 L1272.8 841.7 L1275.7 842.2 L1279.0 843.3 L1282.1 842.1 L1285.0 842.4 L1287.8 842.2 L1290.5 843.5 L1293.5 845.2 L1296.3 846.0 L1298.9 848.0 L1301.6 848.4 L1304.3 847.1 L1306.9 845.5 L1309.7 844.6 L1312.7 845.3 L1315.0 845.9 L1317.5 846.6 L1320.1 849.2 L1322.7 851.2 L1325.2 852.4 L1327.5 852.3 L1329.9 852.0 L1332.1 850.8 L1334.2 848.4 L1336.3 846.0 L1338.6 844.8 L1340.9 843.2 L1343.3 841.1 L1345.7 840.9 L1348.4 838.8 L1351.5 838.3 L1354.1 839.1 L1356.9 840.1 L1360.0 841.6 L1363.2 841.1 L1366.3 842.0 L1369.2 843.3 L1371.9 842.3 L1374.6 841.3 L1377.0 839.2 L1379.2 837.1 L1381.4 835.0 L1383.9 832.1 L1386.7 830.1 L1388.9 828.2 L1391.3 827.0 L1394.0 825.2 L1396.7 823.6 L1399.4 821.9 L1402.0 820.1 L1404.6 819.3 L1406.9 817.1 L1408.9 816.9 L1411.8 816.6 L1414.0 819.0 L1415.8 821.6 L1417.7 823.9 L1420.0 826.3 L1422.7 827.4 L1425.5 828.1 L1428.4 828.8 L1431.5 830.4 L1434.8 831.2 L1437.7 830.8 L1440.7 831.4 L1443.8 833.4 L1447.0 833.3 L1450.2 834.1 L1453.3 834.7 L1456.0 835.3 L1458.7 837.5 L1461.4 839.1 L1464.1 840.9 L1466.7 843.3 L1469.3 845.3 L1471.7 845.6 L1474.9 848.2 L1477.9 847.6 L1480.8 847.8 L1483.6 848.2 L1486.5 849.7 L1489.4 849.9 L1492.2 849.4 L1495.1 847.9 L1498.1 848.4 L1501.3 846.8 L1503.7 848.7 L1506.3 848.2 L1509.0 849.1 L1511.7 851.3 L1514.4 853.0 L1517.1 854.0 L1519.8 853.5 L1522.9 854.6 L1526.2 853.8 L1529.4 852.1 L1532.5 850.7 L1535.5 851.4 L1538.3 849.4 L1541.2 848.1 L1543.7 846.8 L1546.1 846.4 L1548.6 845.9 L1551.3 846.0 L1553.8 846.0 L1556.4 845.9 L1559.0 848.2 L1561.8 849.3 L1564.8 851.8 L1567.9 853.5 L1570.8 851.8 L1573.8 852.6 L1577.0 851.4 L1580.2 850.2 L1583.5 851.3 L1586.8 850.4 L1590.0 849.5 L1593.2 849.5 L1596.5 848.0 L1599.8 848.0 L1603.1 848.3 L1606.3 848.8 L1609.4 846.9 L1612.3 848.0 L1615.4 846.5 L1618.3 846.5 L1621.1 847.0 L1623.7 846.9 L1626.3 846.6 L1628.9 847.0 L1631.1 845.5 L1633.3 843.1 L1635.4 840.6 L1637.5 837.6 L1639.5 835.3 L1641.6 834.1 L1643.7 832.8 L1646.2 832.7 L1648.6 834.0 L1651.1 836.0 L1653.6 838.2 L1656.0 839.4 L1658.5 839.9 L1661.0 840.4 L1663.6 839.0 L1666.1 836.6 L1668.6 834.6 L1671.0 834.2 L1673.3 833.2 L1675.7 834.8 L1677.7 836.7 L1679.7 839.2 L1681.9 841.0 L1684.4 842.2 L1686.7 841.4 L1689.2 840.3 L1691.8 839.3 L1694.6 836.6 L1697.6 834.7 L1701.0 835.2 L1703.5 835.8 L1706.3 835.8 L1709.2 836.0 L1712.3 834.2 L1715.4 835.3 L1718.5 834.5 L1721.5 836.3 L1724.3 836.4 L1726.9 837.2 L1730.0 838.5 L1732.8 839.8 L1735.5 842.0 L1738.1 844.4 L1740.6 846.2 L1743.0 847.9 L1745.4 849.2 L1748.5 850.9 L1751.3 852.7 L1754.1 855.2 L1756.9 857.2 L1760.2 856.0 L1762.5 854.5 L1765.0 852.8 L1767.6 851.2 L1770.2 848.5 L1772.9 845.9 L1775.5 843.8 L1778.1 841.6 L1780.5 840.4 L1783.4 841.3 L1785.9 843.8 L1788.4 846.5 L1790.9 848.4 L1793.8 850.2 L1797.2 852.0 L1800.0 851.4 L1803.2 851.2 L1806.7 852.5 L1810.3 852.8 L1813.9 852.6 L1817.4 852.6 L1820.5 851.5 L1823.1 851.7 L1825.0 853.0"/>
<path class="c" stroke="#ecc32a" d="M120.0 1106.6 L122.0 1106.6 L124.7 1106.8 L127.9 1107.5 L131.4 1106.4 L134.9 1105.7 L138.3 1105.8 L141.2 1105.0 L143.8 1103.4 L146.2 1102.2 L148.4 1100.4 L150.6 1098.7 L152.8 1096.3 L154.9 1093.9 L157.0 1091.5 L158.5 1089.4 L160.0 1087.2 L161.5 1085.0 L163.0 1082.6 L164.4 1080.0 L165.9 1077.4 L167.3 1074.7 L168.7 1071.8 L170.0 1069.0 L171.3 1066.0 L172.3 1063.4 L173.4 1060.7 L174.3 1057.8 L175.3 1055.0 L176.2 1052.0 L177.2 1049.0 L178.1 1046.0 L178.9 1042.9 L179.8 1039.9 L180.7 1037.0 L181.5 1034.0 L182.4 1031.2 L183.3 1028.2 L184.2 1025.0 L185.1 1021.9 L186.0 1018.9 L186.8 1015.8 L187.7 1012.8 L188.5 1009.8 L189.4 1007.0 L190.2 1004.4 L191.0 1001.8 L191.9 999.5 L193.3 996.1 L194.6 993.0 L196.0 990.1 L197.3 987.5 L198.7 985.5 L200.0 983.4 L201.4 981.9 L204.5 979.0 L207.6 978.6 L210.9 979.9 L213.0 980.8 L215.2 981.9 L217.5 983.8 L219.8 986.4 L222.0 990.0 L223.0 992.0 L224.0 994.4 L225.0 997.0 L226.0 999.9 L227.0 1003.0 L228.0 1006.0 L229.0 1009.2 L230.0 1012.4 L231.0 1015.6 L232.0 1018.6 L233.0 1021.6 L234.0 1024.6 L235.0 1027.5 L236.0 1030.5 L237.1 1033.5 L238.1 1036.6 L239.1 1039.5 L240.1 1042.4 L241.1 1045.3 L242.2 1048.1 L243.2 1050.8 L244.2 1053.3 L245.6 1056.6 L246.9 1059.7 L248.3 1062.8 L249.7 1065.8 L251.0 1068.6 L252.4 1071.0 L253.8 1073.5 L255.3 1075.5 L257.6 1078.1 L260.0 1079.9 L262.4 1081.3 L265.0 1082.8 L268.0 1084.4 L270.4 1086.5 L273.1 1087.5 L275.9 1088.6 L278.7 1090.3 L281.6 1092.0 L284.4 1092.3 L287.0 1093.5 L290.5 1093.1 L293.9 1092.7 L297.1 1092.1 L300.2 1092.3 L302.9 1092.2 L305.5 1092.9 L307.5 1095.0 L309.5 1096.8 L312.4 1098.3 L315.1 1099.8 L318.3 1100.1 L321.7 1100.9 L325.2 1100.6 L328.5 1101.8 L331.4 1102.0 L335.0 1102.3 L338.0 1104.2 L340.9 1104.6 L344.0 1104.5 L346.8 1103.8 L349.8 1102.5 L352.7 1101.4 L355.6 1101.2 L358.3 1100.2 L361.3 1100.7 L364.0 1102.1 L366.6 1103.5 L369.4 1103.7 L372.4 1104.0 L375.4 1102.5 L378.6 1101.1 L382.0 1099.1 L384.1 1097.5 L386.2 1095.8 L388.5 1094.0 L390.8 1092.3 L393.1 1089.8 L395.5 1087.6 L398.0 1084.9 L399.8 1083.0 L401.7 1080.7 L403.6 1078.2 L405.5 1075.7 L407.5 1073.1 L409.5 1070.4 L411.4 1067.6 L413.4 1065.3 L415.2 1063.0 L417.0 1061.2 L419.8 1059.0 L422.5 1057.1 L425.1 1054.8 L427.6 1053.5 L430.2 1052.4 L432.8 1050.4 L435.4 1048.1 L438.0 1046.5 L440.7 1044.4 L443.3 1042.9 L446.0 1041.3 L448.7 1039.7 L451.5 1038.6 L454.5 1036.5 L457.5 1036.1 L460.4 1034.6 L463.3 1032.9 L466.0 1031.0 L467.7 1029.4 L469.4 1027.1 L471.0 1024.9 L472.6 1022.5 L474.2 1019.9 L475.8 1017.2 L477.3 1014.4 L478.8 1011.8 L480.3 1009.0 L481.8 1006.4 L483.3 1003.7 L484.7 1000.9 L486.1 998.3 L487.6 995.5 L489.0 992.7 L490.3 989.8 L491.7 986.8 L493.0 983.7 L494.1 981.0 L495.1 978.3 L496.1 975.5 L497.0 972.7 L498.0 969.8 L499.0 966.8 L499.9 963.9 L500.9 961.0 L501.9 958.0 L502.9 955.0 L504.0 951.9 L505.0 949.1 L506.0 946.2 L507.0 943.2 L508.1 940.1 L509.1 937.1 L510.2 934.1 L511.3 931.1 L512.4 928.0 L513.5 925.1 L514.6 922.4 L515.7 919.6 L516.8 917.0 L518.2 913.9 L519.6 911.1 L521.1 908.2 L522.5 905.3 L524.0 902.7 L525.5 900.0 L526.9 897.6 L528.3 895.4 L529.7 893.3 L531.0 891.8 L533.4 888.7 L535.6 886.3 L537.7 885.4 L539.8 884.5 L542.0 883.0 L544.8 883.8 L547.6 884.9 L550.4 886.5 L553.2 888.8 L555.1 890.4 L556.9 892.4 L558.8 895.0 L560.6 897.8 L562.5 901.0 L564.3 904.4 L565.4 906.7 L566.5 909.3 L567.6 911.9 L568.7 914.7 L569.8 917.7 L570.9 920.7 L572.0 923.7 L573.1 926.8 L574.2 929.9 L575.4 932.9 L576.5 935.7 L577.6 938.6 L578.8 941.5 L580.0 944.6 L581.2 947.6 L582.4 950.7 L583.6 953.7 L584.7 956.5 L585.9 959.4 L587.0 962.1 L588.0 964.6 L589.3 967.9 L590.4 971.0 L591.5 974.0 L592.5 976.8 L593.6 979.5 L594.7 982.0 L596.1 984.4 L597.6 986.6 L599.6 989.0 L601.7 991.5 L603.9 994.0 L606.3 995.7 L608.9 997.5 L611.8 999.3 L614.9 1001.1 L617.4 1001.9 L620.2 1002.6 L623.2 1004.1 L626.3 1004.6 L629.5 1004.9 L632.7 1006.1 L635.8 1007.4 L638.6 1007.4 L641.2 1007.5 L643.4 1008.7 L646.2 1011.2 L648.3 1013.4 L649.8 1015.9 L651.2 1018.6 L652.7 1020.9 L654.5 1023.3 L656.6 1024.9 L658.8 1026.4 L661.1 1028.0 L663.5 1029.0 L666.0 1031.0 L668.7 1032.7 L670.9 1034.5 L673.1 1036.2 L675.5 1037.3 L677.9 1039.4 L680.4 1041.4 L682.9 1042.9 L685.4 1045.0 L687.8 1046.8 L689.9 1048.9 L692.1 1051.1 L694.3 1053.2 L696.4 1055.5 L698.6 1057.5 L700.7 1060.1 L702.8 1062.2 L704.8 1064.4 L706.8 1065.9 L709.2 1068.3 L711.5 1069.9 L713.8 1071.9 L716.0 1073.5 L718.2 1075.6 L720.4 1076.8 L722.6 1078.6 L725.2 1080.7 L727.9 1082.7 L730.5 1084.5 L733.2 1086.8 L735.9 1089.0 L738.5 1089.9 L741.7 1091.5 L744.8 1091.3 L748.0 1091.0 L751.1 1091.2 L754.3 1092.2 L757.5 1092.0 L760.9 1091.3 L764.2 1089.5 L767.2 1089.4 L770.0 1088.8 L772.8 1090.0 L775.1 1092.2 L777.3 1093.7 L779.7 1094.1 L782.3 1094.2 L785.0 1093.5 L787.8 1092.7 L790.8 1092.6 L793.5 1092.3 L796.3 1092.6 L799.3 1094.8 L802.2 1095.8 L805.0 1096.9 L807.7 1098.6 L810.4 1099.9 L813.0 1101.7 L815.5 1102.8 L817.7 1103.7 L820.5 1101.5 L822.7 1100.2 L825.6 1098.8 L828.0 1099.1 L830.8 1099.0 L833.8 1099.5 L836.8 1100.2 L839.9 1100.7 L843.0 1102.6 L846.1 1102.3 L849.4 1102.7 L852.6 1103.8 L855.8 1103.4 L859.0 1103.0 L862.1 1102.5 L865.3 1101.9 L868.4 1100.7 L871.6 1100.8 L874.3 1100.2 L877.0 1098.8 L879.7 1098.3 L882.4 1097.0 L885.0 1095.3 L887.4 1095.0 L890.0 1093.1 L892.4 1092.2 L894.8 1091.2 L897.2 1089.2 L900.0 1089.2 L902.7 1088.3 L905.7 1088.0 L908.9 1088.6 L912.0 1087.9 L915.0 1087.5 L917.6 1087.4 L920.6 1089.6 L923.0 1091.3 L925.4 1093.6 L928.6 1095.5 L930.9 1096.9 L933.5 1098.0 L936.2 1099.0 L939.1 1099.2 L942.0 1100.3 L944.9 1100.2 L947.7 1100.3 L950.5 1101.7 L953.3 1101.8 L956.2 1103.9 L959.0 1104.2 L961.7 1104.7 L964.3 1104.9 L966.7 1105.0 L970.3 1105.0 L973.4 1104.3 L976.4 1102.0 L979.4 1101.0 L982.5 1100.2 L985.6 1100.9 L988.7 1100.3 L992.0 1100.3 L994.8 1101.6 L997.8 1102.0 L1000.7 1102.8 L1003.6 1103.5 L1006.3 1103.4 L1009.2 1103.3 L1011.8 1101.4 L1014.4 1099.9 L1017.4 1099.4 L1020.3 1100.2 L1023.4 1101.3 L1026.7 1102.2 L1030.0 1103.9 L1033.2 1104.7 L1035.8 1104.3 L1038.3 1102.8 L1040.9 1101.1 L1043.5 1099.6 L1046.2 1099.4 L1049.0 1098.6 L1051.6 1099.2 L1054.5 1099.5 L1057.4 1100.2 L1060.3 1100.7 L1063.2 1102.4 L1065.8 1102.8 L1068.0 1103.2 L1070.9 1102.7 L1073.0 1101.0 L1075.0 1099.5 L1077.6 1098.5 L1080.3 1097.8 L1083.2 1099.3 L1086.4 1099.3 L1089.8 1100.4 L1093.5 1102.1 L1096.4 1102.7 L1099.5 1102.6 L1102.7 1103.0 L1106.1 1102.0 L1109.4 1101.2 L1112.6 1101.5 L1115.7 1103.0 L1119.1 1102.2 L1122.4 1102.7 L1125.6 1103.5 L1128.7 1103.6 L1131.8 1105.0 L1134.7 1104.1 L1138.1 1103.6 L1141.4 1104.8 L1144.6 1103.2 L1147.6 1102.5 L1150.5 1102.1 L1153.3 1101.8 L1156.0 1100.1 L1158.5 1098.7 L1160.9 1097.6 L1163.2 1096.3 L1166.3 1095.0 L1168.9 1093.0 L1172.2 1091.2 L1174.1 1089.3 L1176.1 1087.7 L1178.2 1085.2 L1180.6 1082.8 L1183.5 1081.1 L1187.0 1080.2 L1189.5 1078.8 L1192.3 1079.2 L1195.4 1078.3 L1198.7 1078.2 L1202.1 1077.7 L1205.6 1078.9 L1209.0 1079.8 L1212.3 1080.2 L1215.5 1079.8 L1218.4 1079.8 L1221.4 1081.4 L1224.2 1082.3 L1226.9 1083.4 L1229.5 1083.6 L1232.1 1085.0 L1234.6 1086.0 L1237.2 1087.3 L1239.8 1088.3 L1242.5 1089.8 L1245.0 1091.0 L1247.5 1092.3 L1250.0 1094.1 L1252.5 1095.7 L1255.0 1098.0 L1257.6 1099.7 L1260.2 1101.1 L1262.9 1103.1 L1265.6 1104.3 L1268.3 1104.7 L1271.1 1106.1 L1274.0 1106.5 L1276.9 1105.4 L1279.9 1104.8 L1282.9 1103.1 L1285.9 1102.6 L1289.0 1103.1 L1292.0 1102.2 L1295.0 1102.5 L1298.0 1100.9 L1301.0 1100.3 L1304.0 1100.3 L1307.1 1100.7 L1310.2 1102.4 L1313.2 1103.8 L1316.2 1104.4 L1319.2 1104.6 L1322.1 1104.5 L1324.8 1104.6 L1327.5 1104.2 L1331.1 1104.5 L1334.6 1104.1 L1337.9 1105.1 L1341.1 1104.9 L1344.1 1104.3 L1347.0 1104.6 L1349.7 1103.4 L1353.1 1102.9 L1356.0 1101.5 L1358.7 1099.8 L1361.4 1098.3 L1364.5 1097.2 L1367.4 1097.1 L1370.5 1097.2 L1373.8 1096.3 L1377.0 1096.4 L1380.1 1094.8 L1383.0 1094.5 L1385.6 1093.2 L1387.8 1091.3 L1389.9 1089.0 L1392.2 1087.6 L1394.7 1085.5 L1397.8 1083.7 L1400.3 1083.4 L1403.0 1081.5 L1406.0 1080.9 L1409.2 1079.4 L1412.3 1079.3 L1415.5 1077.8 L1418.5 1076.5 L1421.2 1076.4 L1423.7 1076.2 L1427.4 1076.9 L1430.4 1077.0 L1433.1 1077.8 L1435.7 1078.8 L1438.5 1080.0 L1441.3 1080.2 L1444.1 1081.2 L1446.9 1082.5 L1449.9 1083.3 L1453.3 1083.7 L1455.8 1084.7 L1458.5 1085.2 L1461.4 1086.6 L1464.4 1088.3 L1467.3 1088.8 L1470.2 1090.5 L1472.9 1092.3 L1475.4 1093.0 L1478.3 1094.5 L1480.9 1096.5 L1483.3 1098.0 L1485.5 1099.6 L1487.8 1101.3 L1490.2 1102.4 L1493.1 1102.3 L1495.9 1102.1 L1498.8 1102.3 L1501.8 1102.9 L1505.0 1102.1 L1508.0 1103.0 L1511.2 1103.5 L1514.5 1103.7 L1517.7 1104.3 L1520.8 1105.5 L1523.5 1104.5 L1526.8 1103.9 L1529.5 1102.3 L1532.0 1100.2 L1534.6 1099.3 L1537.1 1099.2 L1539.5 1100.5 L1542.1 1100.9 L1545.7 1102.0 L1548.0 1102.6 L1550.6 1102.6 L1553.4 1102.3 L1556.3 1100.6 L1559.4 1100.4 L1562.4 1099.3 L1565.2 1099.3 L1567.9 1098.8 L1571.3 1099.5 L1574.6 1099.7 L1577.8 1101.4 L1580.9 1101.8 L1583.8 1102.9 L1586.4 1102.1 L1589.6 1101.8 L1592.2 1099.6 L1594.6 1098.0 L1597.5 1097.2 L1600.0 1098.3 L1602.4 1099.5 L1605.1 1100.7 L1608.3 1102.9 L1612.3 1103.0 L1614.7 1103.6 L1617.5 1103.5 L1620.4 1103.6 L1623.6 1104.0 L1626.9 1105.7 L1630.1 1104.8 L1633.4 1105.8 L1636.5 1105.8 L1639.3 1106.1 L1641.9 1105.8 L1645.1 1103.7 L1647.9 1102.5 L1650.4 1100.0 L1652.8 1097.7 L1655.2 1095.5 L1657.7 1094.2 L1660.4 1093.1 L1663.4 1092.7 L1666.6 1091.5 L1669.8 1091.5 L1673.1 1091.4 L1676.3 1092.7 L1679.5 1092.9 L1682.5 1093.5 L1685.3 1094.0 L1687.9 1094.8 L1690.5 1096.2 L1693.0 1097.8 L1695.5 1099.8 L1698.2 1100.4 L1701.0 1101.0 L1703.6 1100.7 L1706.3 1099.7 L1709.1 1099.1 L1712.0 1098.2 L1714.8 1097.7 L1717.7 1096.6 L1720.5 1095.0 L1723.2 1093.7 L1726.2 1092.5 L1729.3 1091.5 L1732.3 1090.9 L1735.2 1090.9 L1738.1 1089.1 L1740.9 1088.2 L1743.6 1088.1 L1746.6 1088.6 L1749.3 1088.3 L1752.0 1088.6 L1754.7 1090.1 L1757.4 1090.5 L1760.2 1092.5 L1762.7 1093.6 L1765.2 1094.6 L1767.8 1096.4 L1770.4 1097.3 L1773.1 1099.0 L1775.8 1099.4 L1778.7 1099.8 L1781.3 1100.9 L1783.9 1102.0 L1786.7 1103.1 L1789.5 1103.0 L1792.3 1104.3 L1795.1 1104.3 L1798.0 1105.6 L1800.9 1105.9 L1804.0 1105.7 L1807.4 1103.8 L1810.9 1102.6 L1814.3 1101.5 L1817.6 1101.2 L1820.6 1099.9 L1823.1 1099.2 L1825.0 1099.8"/>
<path class="c" stroke="#ff0000" d="M120.0 1375.8 L122.0 1374.7 L124.7 1374.2 L127.9 1372.5 L131.4 1371.7 L134.9 1369.0 L137.1 1368.2 L139.4 1366.7 L141.9 1365.1 L144.3 1363.5 L146.8 1361.0 L149.3 1358.9 L151.7 1357.1 L153.9 1354.9 L156.0 1352.8 L158.1 1350.7 L160.1 1348.9 L162.1 1346.9 L164.0 1344.7 L165.9 1342.2 L167.8 1340.1 L169.7 1337.8 L171.5 1335.3 L173.3 1332.8 L175.0 1330.2 L176.8 1327.6 L178.5 1325.2 L180.2 1322.7 L182.1 1320.6 L184.0 1319.0 L186.3 1317.0 L188.8 1314.9 L191.3 1313.5 L193.9 1312.5 L196.4 1310.9 L199.0 1310.6 L201.4 1308.8 L204.2 1308.3 L206.9 1308.8 L209.6 1310.8 L212.3 1312.2 L214.9 1313.8 L217.3 1315.5 L219.0 1317.3 L220.7 1319.6 L222.2 1321.8 L223.8 1324.3 L225.3 1326.9 L226.8 1329.6 L228.4 1332.2 L230.0 1334.5 L231.9 1337.0 L233.9 1339.6 L236.0 1341.9 L238.0 1344.6 L240.1 1346.7 L242.2 1348.5 L244.2 1350.1 L246.9 1352.5 L249.5 1353.5 L252.2 1355.2 L255.1 1355.4 L258.5 1355.9 L261.3 1355.4 L264.4 1356.7 L267.6 1357.0 L271.0 1356.4 L274.4 1355.4 L277.6 1355.9 L280.7 1356.4 L283.6 1358.0 L286.5 1359.5 L289.2 1360.9 L291.9 1361.8 L294.6 1362.8 L297.2 1364.9 L299.7 1366.4 L303.1 1366.2 L306.2 1366.7 L309.3 1366.9 L312.4 1368.1 L315.5 1367.4 L318.1 1367.8 L320.7 1369.8 L323.2 1370.9 L325.9 1371.9 L328.6 1373.2 L331.4 1373.6 L334.5 1373.8 L337.7 1372.8 L341.1 1371.7 L344.4 1370.7 L347.6 1370.5 L350.4 1370.9 L354.0 1370.6 L357.1 1370.6 L360.0 1370.8 L363.0 1369.6 L364.8 1368.0 L366.6 1365.8 L368.5 1363.6 L370.3 1361.0 L372.2 1358.5 L374.0 1356.1 L375.8 1353.5 L377.9 1351.4 L380.1 1349.3 L382.3 1347.4 L384.4 1345.5 L386.5 1343.2 L388.4 1340.8 L389.9 1338.6 L391.3 1335.9 L392.7 1333.2 L393.9 1330.3 L395.2 1327.4 L396.6 1324.6 L398.0 1321.9 L399.5 1319.3 L400.9 1316.5 L402.4 1313.8 L404.0 1311.1 L405.6 1308.8 L407.2 1306.6 L409.0 1304.3 L411.2 1302.6 L413.5 1301.0 L415.9 1299.4 L418.4 1298.5 L420.9 1296.5 L423.3 1294.5 L425.3 1292.8 L427.3 1291.0 L429.3 1288.8 L431.3 1286.5 L433.3 1284.6 L435.4 1282.4 L437.6 1281.0 L440.3 1278.8 L443.2 1278.5 L446.2 1277.1 L449.2 1276.8 L452.2 1276.2 L455.0 1274.6 L457.4 1272.9 L459.7 1271.0 L462.0 1269.1 L464.3 1266.8 L466.6 1264.4 L468.7 1262.2 L470.8 1260.0 L472.8 1257.6 L474.7 1255.6 L476.5 1253.5 L478.2 1251.1 L480.0 1248.7 L481.7 1245.9 L483.5 1242.6 L484.7 1240.3 L485.8 1237.8 L487.0 1235.0 L488.1 1232.0 L489.3 1229.0 L490.4 1225.9 L491.6 1222.7 L492.7 1219.7 L493.9 1216.6 L495.0 1213.7 L496.2 1210.9 L497.5 1208.0 L498.7 1205.0 L500.0 1202.1 L501.3 1199.2 L502.6 1196.5 L503.8 1193.7 L505.1 1190.9 L506.4 1188.1 L507.6 1185.3 L508.9 1182.4 L510.2 1179.4 L511.5 1176.5 L512.8 1173.4 L514.1 1170.3 L515.4 1167.2 L516.6 1164.3 L517.9 1161.4 L519.2 1158.7 L520.4 1156.2 L521.6 1153.9 L523.5 1150.6 L525.4 1147.7 L527.3 1145.3 L529.1 1143.1 L530.8 1141.2 L532.6 1139.9 L535.3 1138.5 L538.0 1136.7 L540.5 1136.5 L542.6 1134.8 L545.2 1133.3 L546.9 1133.8 L549.8 1135.4 L551.5 1136.7 L553.6 1138.3 L556.4 1141.4 L557.5 1142.9 L558.8 1144.8 L560.2 1147.1 L561.6 1149.5 L563.1 1152.2 L564.6 1154.9 L566.1 1157.8 L567.6 1160.6 L569.0 1163.4 L570.3 1166.0 L571.6 1168.6 L572.9 1171.3 L574.2 1174.1 L575.5 1176.9 L576.8 1179.8 L578.1 1182.7 L579.3 1185.7 L580.6 1188.7 L581.8 1191.9 L582.8 1194.7 L583.7 1197.6 L584.7 1200.6 L585.6 1203.8 L586.5 1207.0 L587.5 1210.1 L588.4 1213.3 L589.3 1216.4 L590.2 1219.2 L591.1 1222.0 L592.0 1224.6 L592.9 1226.8 L594.7 1230.6 L596.4 1233.4 L598.2 1235.6 L600.0 1237.7 L601.9 1240.1 L604.0 1242.5 L605.5 1244.8 L607.1 1247.0 L608.8 1249.4 L610.5 1252.2 L612.3 1254.9 L614.1 1257.3 L616.0 1259.6 L617.9 1261.5 L619.8 1263.2 L622.3 1265.1 L625.0 1266.7 L627.7 1267.7 L630.5 1268.2 L633.3 1269.1 L636.1 1269.7 L638.8 1271.4 L641.2 1272.9 L643.6 1274.2 L646.1 1275.1 L648.5 1276.5 L650.9 1278.6 L653.3 1280.0 L655.6 1281.9 L657.8 1283.6 L659.7 1285.5 L661.5 1287.7 L663.3 1290.2 L665.1 1292.5 L666.8 1295.0 L668.5 1297.3 L670.2 1299.9 L672.0 1302.3 L673.7 1304.3 L675.7 1306.6 L677.6 1308.8 L679.6 1311.0 L681.5 1313.1 L683.5 1315.1 L685.4 1317.5 L687.5 1319.9 L689.5 1321.8 L691.4 1323.9 L693.3 1326.2 L695.2 1328.5 L697.2 1330.6 L699.1 1332.7 L701.1 1334.9 L703.0 1337.1 L704.9 1339.1 L706.8 1341.1 L709.1 1343.6 L711.4 1345.5 L713.7 1347.9 L715.9 1349.9 L718.1 1352.1 L720.4 1354.3 L722.6 1356.7 L724.6 1358.9 L726.6 1361.2 L728.7 1363.4 L730.8 1365.7 L732.8 1368.1 L734.8 1370.4 L736.7 1371.9 L738.5 1372.6 L741.9 1374.8 L744.9 1375.6 L747.9 1375.7 L751.0 1375.6 L753.5 1376.2 L756.1 1376.9 L758.7 1379.2 L761.2 1380.1 L763.8 1379.8 L766.3 1380.2 L768.7 1378.7 L771.2 1377.9 L773.8 1377.0 L776.5 1376.2 L778.9 1374.8 L781.5 1373.3 L784.2 1372.1 L786.9 1371.6 L789.6 1369.8 L792.4 1368.6 L795.3 1368.0 L798.3 1368.2 L801.4 1367.9 L804.4 1367.7 L807.2 1365.9 L809.8 1366.1 L812.9 1366.6 L815.4 1368.7 L817.9 1371.0 L820.9 1372.7 L823.3 1374.0 L825.8 1375.5 L828.5 1376.6 L831.3 1377.6 L834.0 1378.0 L836.7 1379.2 L839.8 1379.8 L842.8 1379.2 L845.8 1378.2 L849.0 1377.0 L852.6 1375.8 L855.5 1374.9 L858.8 1373.5 L862.2 1374.0 L865.6 1372.8 L869.0 1373.6 L872.1 1373.7 L874.8 1372.6 L878.5 1373.6 L881.5 1374.3 L884.2 1375.0 L887.4 1373.9 L890.4 1373.4 L893.7 1372.7 L897.0 1373.3 L900.3 1371.9 L903.3 1370.8 L906.0 1369.7 L908.4 1367.6 L910.7 1365.6 L913.2 1363.5 L916.0 1361.5 L918.7 1360.4 L921.6 1358.6 L924.6 1357.1 L927.7 1355.7 L930.6 1354.6 L933.4 1353.2 L936.4 1354.5 L939.1 1355.8 L941.8 1356.3 L944.6 1357.8 L947.7 1358.7 L950.7 1359.1 L954.0 1360.3 L957.4 1360.9 L960.8 1360.9 L963.9 1361.9 L966.7 1363.1 L970.0 1364.2 L972.6 1366.5 L975.0 1368.3 L977.8 1369.6 L980.4 1369.6 L983.2 1368.2 L986.0 1366.0 L989.0 1363.9 L992.0 1363.1 L995.1 1362.8 L998.2 1364.4 L1001.5 1364.7 L1004.7 1365.5 L1007.9 1366.1 L1011.1 1365.3 L1014.4 1365.2 L1017.6 1364.1 L1020.7 1363.4 L1023.7 1362.7 L1026.4 1363.9 L1029.0 1366.4 L1031.5 1368.8 L1033.9 1370.9 L1036.4 1372.8 L1039.5 1372.3 L1042.5 1370.8 L1045.6 1368.6 L1049.0 1367.0 L1051.5 1367.7 L1054.1 1369.9 L1056.7 1371.0 L1059.5 1372.1 L1062.2 1372.7 L1064.9 1374.6 L1067.5 1373.4 L1070.1 1371.8 L1072.7 1370.4 L1075.3 1368.4 L1078.0 1367.6 L1080.8 1367.2 L1083.8 1366.7 L1086.9 1367.4 L1090.1 1366.8 L1093.4 1368.4 L1096.6 1369.2 L1099.8 1370.0 L1103.0 1369.6 L1106.1 1371.2 L1109.3 1372.3 L1112.5 1372.3 L1115.6 1372.2 L1118.8 1372.6 L1122.0 1373.2 L1125.4 1372.9 L1128.7 1372.9 L1132.0 1373.5 L1135.0 1373.1 L1137.8 1372.1 L1141.2 1372.1 L1143.9 1371.3 L1146.7 1369.1 L1150.0 1367.8 L1152.3 1366.7 L1154.8 1365.5 L1157.5 1364.3 L1160.2 1363.5 L1163.0 1362.1 L1165.8 1360.3 L1168.5 1358.5 L1171.1 1356.9 L1173.8 1355.3 L1176.4 1353.6 L1179.1 1351.8 L1181.7 1350.1 L1184.4 1348.8 L1187.0 1347.6 L1190.1 1348.2 L1193.2 1347.6 L1196.2 1348.1 L1199.3 1349.2 L1202.4 1350.4 L1205.5 1349.9 L1208.5 1349.7 L1211.4 1348.5 L1214.3 1347.0 L1217.3 1347.4 L1220.5 1345.8 L1224.0 1346.2 L1226.6 1345.1 L1229.5 1345.1 L1232.6 1345.5 L1235.7 1346.5 L1238.9 1346.8 L1242.0 1346.2 L1244.9 1345.7 L1247.6 1347.2 L1249.9 1348.2 L1252.8 1350.0 L1255.0 1351.6 L1256.9 1354.2 L1258.7 1356.8 L1260.6 1359.3 L1262.8 1361.4 L1265.3 1362.9 L1268.0 1364.1 L1270.7 1363.8 L1273.6 1365.4 L1276.5 1366.0 L1279.4 1367.2 L1282.1 1367.2 L1284.9 1368.5 L1287.8 1370.4 L1290.7 1371.9 L1293.5 1372.7 L1295.9 1373.8 L1298.0 1372.7 L1300.9 1371.1 L1302.5 1368.3 L1305.3 1366.6 L1307.6 1366.4 L1310.4 1365.8 L1313.4 1366.5 L1316.7 1366.1 L1320.2 1365.2 L1323.8 1366.3 L1326.4 1366.4 L1329.2 1367.0 L1332.1 1366.8 L1335.1 1366.2 L1338.2 1366.7 L1341.2 1365.5 L1344.2 1364.7 L1347.0 1364.8 L1349.7 1366.2 L1352.9 1365.1 L1356.0 1366.0 L1359.0 1366.1 L1361.8 1365.3 L1364.6 1365.0 L1367.3 1365.4 L1370.0 1364.5 L1372.6 1363.7 L1375.1 1361.3 L1377.5 1359.4 L1379.9 1357.5 L1382.2 1355.0 L1384.4 1352.9 L1386.7 1351.6 L1389.8 1349.6 L1392.9 1349.1 L1395.9 1348.9 L1398.8 1347.4 L1401.5 1345.7 L1403.8 1344.0 L1405.7 1341.0 L1407.5 1338.5 L1409.7 1336.2 L1412.6 1335.5 L1414.9 1334.9 L1417.5 1336.0 L1420.4 1336.4 L1423.5 1337.0 L1426.5 1337.2 L1429.5 1338.7 L1432.3 1339.7 L1434.8 1341.4 L1437.3 1342.8 L1439.5 1344.6 L1441.5 1346.7 L1443.4 1348.9 L1445.3 1350.9 L1447.4 1352.7 L1449.6 1354.4 L1452.5 1356.2 L1455.5 1357.4 L1458.6 1357.4 L1461.7 1358.6 L1464.9 1358.5 L1468.0 1358.9 L1471.1 1359.7 L1474.3 1360.5 L1477.5 1361.1 L1480.6 1362.0 L1483.6 1362.2 L1486.5 1363.0 L1489.1 1364.4 L1491.6 1366.1 L1493.9 1367.6 L1496.2 1369.5 L1498.7 1370.4 L1501.3 1371.6 L1504.1 1372.4 L1507.1 1373.2 L1510.2 1372.7 L1513.4 1373.4 L1516.6 1373.2 L1519.8 1373.8 L1522.7 1372.2 L1525.7 1371.5 L1528.7 1371.2 L1531.8 1370.8 L1534.7 1370.1 L1537.5 1369.7 L1540.0 1368.7 L1542.8 1368.4 L1544.9 1369.2 L1546.9 1370.9 L1549.4 1372.3 L1553.0 1373.0 L1555.4 1372.8 L1558.1 1374.1 L1561.2 1373.8 L1564.4 1373.7 L1567.7 1374.9 L1571.1 1375.4 L1574.4 1375.4 L1577.4 1375.7 L1580.3 1375.4 L1582.7 1375.1 L1586.6 1373.7 L1589.7 1371.8 L1592.3 1370.9 L1594.8 1368.7 L1597.5 1368.6 L1600.3 1368.1 L1602.9 1369.2 L1605.6 1370.6 L1608.6 1371.4 L1612.3 1370.4 L1614.7 1371.5 L1617.5 1370.7 L1620.5 1370.4 L1623.7 1371.7 L1626.9 1371.9 L1630.0 1370.5 L1632.9 1371.0 L1635.6 1369.8 L1638.0 1369.5 L1640.8 1368.5 L1643.0 1366.2 L1644.8 1364.1 L1646.6 1361.9 L1648.6 1359.9 L1651.0 1359.1 L1653.5 1357.5 L1656.3 1356.6 L1659.3 1356.9 L1662.4 1355.3 L1665.5 1355.2 L1668.5 1355.8 L1671.4 1356.3 L1674.6 1356.5 L1677.6 1355.5 L1680.6 1355.5 L1683.6 1357.2 L1686.7 1358.0 L1690.0 1359.0 L1692.6 1360.1 L1695.3 1361.3 L1698.0 1361.8 L1700.8 1363.7 L1703.6 1364.1 L1706.4 1365.7 L1709.2 1365.4 L1712.0 1365.3 L1715.2 1366.3 L1718.5 1366.8 L1721.7 1366.5 L1725.0 1365.0 L1728.2 1365.7 L1731.3 1365.8 L1734.3 1365.9 L1737.5 1365.5 L1740.5 1364.0 L1743.3 1364.2 L1746.2 1364.0 L1749.3 1364.3 L1752.8 1365.3 L1755.4 1366.7 L1758.1 1367.5 L1761.0 1368.9 L1764.0 1369.2 L1767.0 1369.5 L1770.1 1371.3 L1773.1 1372.6 L1775.9 1372.9 L1778.7 1372.7 L1782.0 1373.3 L1785.3 1372.8 L1788.4 1372.6 L1791.4 1372.6 L1794.5 1372.5 L1797.7 1372.1 L1800.9 1370.5 L1804.0 1369.9 L1807.4 1369.3 L1810.9 1368.2 L1814.3 1366.7 L1817.6 1365.9 L1820.6 1365.4 L1823.1 1365.1 L1825.0 1364.6"/>
<line x1="209" y1="150" x2="209" y2="1306" stroke="#000" stroke-width="8" stroke-dasharray="34.5 31.6"/>
<line x1="543.7" y1="46.5" x2="543.7" y2="1134" stroke="#ff0a1e" stroke-width="8" stroke-dasharray="34.5 31.5"/>
<line x1="1225" y1="198.5" x2="1225" y2="1345" stroke="#000" stroke-width="8.5" stroke-dasharray="10.5 15 41 16.5"/>
<line x1="1423.7" y1="198.5" x2="1423.7" y2="1345" stroke="#000" stroke-width="8.5" stroke-dasharray="10.5 15 41 16.5"/>
</g>
<rect x="119.6" y="43.3" width="1705.9" height="1387.2" fill="none" stroke="#000" stroke-width="10.8"/>
<line x1="120" y1="1430" x2="120" y2="1443.5" stroke="#000" stroke-width="10.5"/>
<line x1="275" y1="1430" x2="275" y2="1458.5" stroke="#000" stroke-width="10.5"/>
<text x="275" y="1522" font-size="59" text-anchor="middle">200</text>
<line x1="430" y1="1430" x2="430" y2="1443.5" stroke="#000" stroke-width="10.5"/>
<line x1="585" y1="1430" x2="585" y2="1458.5" stroke="#000" stroke-width="10.5"/>
<text x="585" y="1522" font-size="59" text-anchor="middle">400</text>
<line x1="740" y1="1430" x2="740" y2="1443.5" stroke="#000" stroke-width="10.5"/>
<line x1="895" y1="1430" x2="895" y2="1458.5" stroke="#000" stroke-width="10.5"/>
<text x="895" y="1522" font-size="59" text-anchor="middle">600</text>
<line x1="1050" y1="1430" x2="1050" y2="1443.5" stroke="#000" stroke-width="10.5"/>
<line x1="1205" y1="1430" x2="1205" y2="1458.5" stroke="#000" stroke-width="10.5"/>
<text x="1205" y="1522" font-size="59" text-anchor="middle">800</text>
<line x1="1360" y1="1430" x2="1360" y2="1443.5" stroke="#000" stroke-width="10.5"/>
<line x1="1515" y1="1430" x2="1515" y2="1458.5" stroke="#000" stroke-width="10.5"/>
<text x="1515" y="1522" font-size="59" text-anchor="middle">1000</text>
<line x1="1670" y1="1430" x2="1670" y2="1443.5" stroke="#000" stroke-width="10.5"/>
<line x1="1825" y1="1430" x2="1825" y2="1458.5" stroke="#000" stroke-width="10.5"/>
<text x="1825" y="1522" font-size="59" text-anchor="middle">1200</text>
<text x="1096" y="1624.5" font-size="72" text-anchor="middle">Raman Shift (cm<tspan font-size="46" dy="-31">-1</tspan><tspan dy="31">)</tspan></text>
<text transform="translate(73.5,709.5) rotate(-90)" font-size="84" text-anchor="middle">Intensity(a.u.)</text>
<text transform="translate(267.5,195) scale(1.0,1.05)" font-size="71">154</text>
<text transform="translate(636.5,147.5) scale(1.0,1.06)" font-size="72">374</text>
<text transform="translate(1170,187.5) scale(1.0,1.08)" font-size="73">815</text>
<text transform="translate(1362.5,185.5) scale(1.0,1.08)" font-size="73">960</text>
<text transform="translate(892,252) scale(0.975,1.0)" font-size="60">TS-1</text>
<text transform="translate(1471,261.5) scale(0.975,1.07)" font-size="61.5">I<tspan font-size="41" dy="19">154</tspan><tspan dy="-19">/I</tspan><tspan font-size="41" dy="19">374</tspan><tspan dy="-19">=0.26</tspan></text>
<text transform="translate(744,509) scale(0.995,1.03)" font-size="60">Au/TS-1-wash-H<tspan font-size="38" dy="15">2</tspan></text>
<text transform="translate(753,783) scale(0.994,1.03)" font-size="60">Au/TS-1-wash-O<tspan font-size="38" dy="15">2</tspan></text>
<text transform="translate(787,1057.5) scale(0.99,1.06)" font-size="60">Au/TS-1-H<tspan font-size="38" dy="15">2</tspan></text>
<text transform="translate(776,1304.5) scale(0.997,1.08)" font-size="60">Au/TS-1-O<tspan font-size="38" dy="13">2</tspan></text>
</svg>
</body></html>
